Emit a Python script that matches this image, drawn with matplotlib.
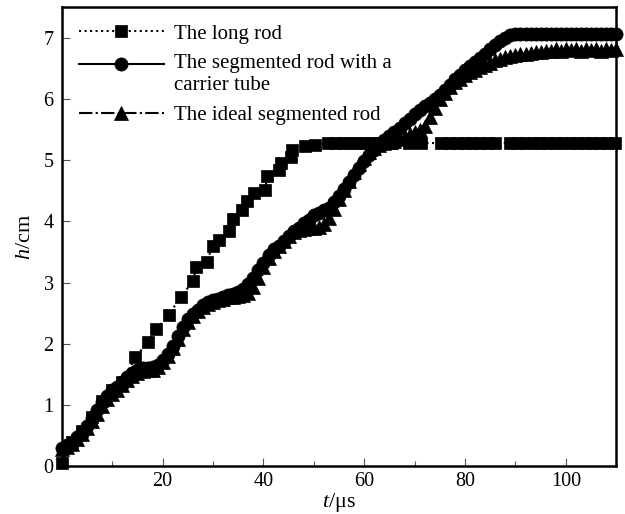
import numpy as np
import matplotlib
matplotlib.use('Agg')
import matplotlib.pyplot as plt
from matplotlib.ticker import MultipleLocator

plt.rcParams['font.family'] = ['Liberation Serif', 'DejaVu Serif']
plt.rcParams['mathtext.fontset'] = 'custom'
plt.rcParams['mathtext.rm'] = 'Liberation Serif'
plt.rcParams['mathtext.it'] = 'Liberation Serif:italic'

# long rod (squares)
t_long = [0, 2, 4, 6, 8, 10, 12, 14.6, 17.0, 18.7, 21.2, 23.6, 26.0, 26.7, 28.7,
          29.9, 31.1, 33.1, 34.0, 35.7, 36.8, 38.1, 40.3, 40.8, 43.0, 43.4, 45.4,
          45.7, 48.2, 50.3, 52.9, 54.3, 55.7, 57.1, 58.5, 59.9, 61.3, 62.7, 64.1,
          65.5, 68.8, 71.3, 75.3, 76.8, 78.4, 79.9, 81.4, 82.9, 84.5, 86.0, 88.9,
          90.4, 91.9, 93.4, 94.9, 96.3, 97.8, 99.3, 100.8, 102.3, 103.8, 105.2,
          106.7, 108.2, 109.7]
h_long = [0.05, 0.40, 0.58, 0.80, 1.06, 1.24, 1.38, 1.78, 2.03, 2.24, 2.47, 2.77,
          3.02, 3.26, 3.34, 3.59, 3.70, 3.85, 4.04, 4.19, 4.34, 4.47, 4.52, 4.74,
          4.84, 4.95, 5.06, 5.16, 5.23, 5.25, 5.28, 5.28, 5.28, 5.28, 5.28, 5.28,
          5.28, 5.28, 5.28, 5.28, 5.28, 5.28, 5.28, 5.28, 5.28, 5.28, 5.28, 5.28,
          5.28, 5.28, 5.28, 5.28, 5.28, 5.28, 5.28, 5.28, 5.28, 5.28, 5.28, 5.28,
          5.28, 5.28, 5.28, 5.28, 5.28]

# segmented rod with carrier tube (circles), 1 us steps
t_seg = list(range(0, 111))
h_seg = [0.30, 0.34, 0.38, 0.47, 0.56, 0.66, 0.78, 0.92, 1.05, 1.15,
         1.25, 1.30, 1.38, 1.46, 1.52, 1.57, 1.60, 1.61, 1.62, 1.66,
         1.74, 1.84, 1.97, 2.12, 2.28, 2.40, 2.48, 2.56, 2.63, 2.68,
         2.71, 2.74, 2.77, 2.79, 2.81, 2.84, 2.90, 2.98, 3.08, 3.20,
         3.32, 3.45, 3.55, 3.60, 3.68, 3.76, 3.84, 3.90, 3.97, 4.03,
         4.10, 4.14, 4.18, 4.22, 4.32, 4.42, 4.53, 4.64, 4.76, 4.87,
         4.98, 5.08, 5.17, 5.25, 5.33, 5.40, 5.46, 5.52, 5.60, 5.68,
         5.76, 5.82, 5.88, 5.94, 6.00, 6.06, 6.14, 6.23, 6.32, 6.40,
         6.47, 6.54, 6.60, 6.67, 6.74, 6.81, 6.88, 6.94, 7.00, 7.04,
         7.07, 7.07, 7.07, 7.07, 7.07, 7.07, 7.07, 7.07, 7.07, 7.07,
         7.07, 7.07, 7.07, 7.07, 7.07, 7.07, 7.07, 7.07, 7.07, 7.07,
         7.07]

# ideal segmented rod (triangles), 1 us steps
t_ideal = list(range(0, 111))
h_ideal = [0.28, 0.31, 0.36, 0.44, 0.53, 0.62, 0.74, 0.86, 0.98, 1.09,
           1.18, 1.25, 1.33, 1.41, 1.48, 1.53, 1.56, 1.57, 1.58, 1.62,
           1.70, 1.80, 1.93, 2.08, 2.24, 2.36, 2.45, 2.53, 2.60, 2.65,
           2.68, 2.71, 2.74, 2.76, 2.77, 2.78, 2.79, 2.83, 2.92, 3.08,
           3.25, 3.40, 3.52, 3.60, 3.68, 3.76, 3.82, 3.86, 3.88, 3.89,
           3.90, 3.91, 3.95, 4.05, 4.20, 4.36, 4.52, 4.66, 4.80, 4.93,
           5.04, 5.13, 5.20, 5.25, 5.28, 5.30, 5.32, 5.35, 5.38, 5.42,
           5.46, 5.50, 5.56, 5.70, 5.86, 6.00, 6.10, 6.19, 6.27, 6.33,
           6.39, 6.44, 6.48, 6.52, 6.56, 6.59, 6.63, 6.66, 6.69, 6.71,
           6.72, 6.73, 6.74, 6.75, 6.76, 6.77, 6.78, 6.79, 6.81, 6.79,
           6.81, 6.80, 6.82, 6.79, 6.81, 6.80, 6.82, 6.79, 6.81, 6.80,
           6.81]

fig = plt.figure(figsize=(6.25, 5.14), dpi=100)
ax = fig.add_axes([0.099, 0.093, 0.887, 0.893])

ax.plot(t_long, h_long, linestyle=':', color='black', lw=1.5, marker='s',
        ms=8.5, mec='black', mew=0.5, clip_on=False, zorder=3,
        label='The long rod')
ax.plot(t_seg, h_seg, linestyle='-', color='black', lw=1.5, marker='o',
        ms=9.5, mec='black', mew=0.5, clip_on=False, zorder=3,
        label='The segmented rod with a\ncarrier tube')
ax.plot(t_ideal, h_ideal, linestyle='-.', color='black', lw=1.5, marker='^',
        ms=10, mec='black', mew=0.5, clip_on=False, zorder=3,
        label='The ideal segmented rod')

ax.set_xlim(0, 110)
ax.set_ylim(0, 7.5)
ax.set_xticks([20, 40, 60, 80, 100])
ax.xaxis.set_minor_locator(MultipleLocator(10))
ax.set_yticks(range(0, 8))
ax.tick_params(which='both', direction='in', labelsize=14.5, width=0.8, color='#555555')
ax.tick_params(which='major', length=6)
ax.tick_params(which='minor', length=3.5)
ax.tick_params(axis='x', pad=4)
ax.tick_params(axis='y', pad=6)
for s in ax.spines.values():
    s.set_linewidth(1.8)

ax.set_xlabel(r'$t$/μs', fontsize=16, labelpad=0)
ax.set_ylabel(r'$h$/cm', fontsize=16, labelpad=6)

leg = ax.legend(loc='upper left', bbox_to_anchor=(0.03, 0.963), frameon=False,
                fontsize=15, handlelength=4.1, handletextpad=0.5,
                borderaxespad=0, borderpad=0, labelspacing=0.5)
leg.get_texts()[1].set_linespacing(1.2)
# put the handle of the two-line entry level with its first line
h2 = leg.legend_handles[1]
h2.set_ydata(np.asarray(h2.get_ydata()) + 7.5)

fig.savefig('out.png', dpi=100)
